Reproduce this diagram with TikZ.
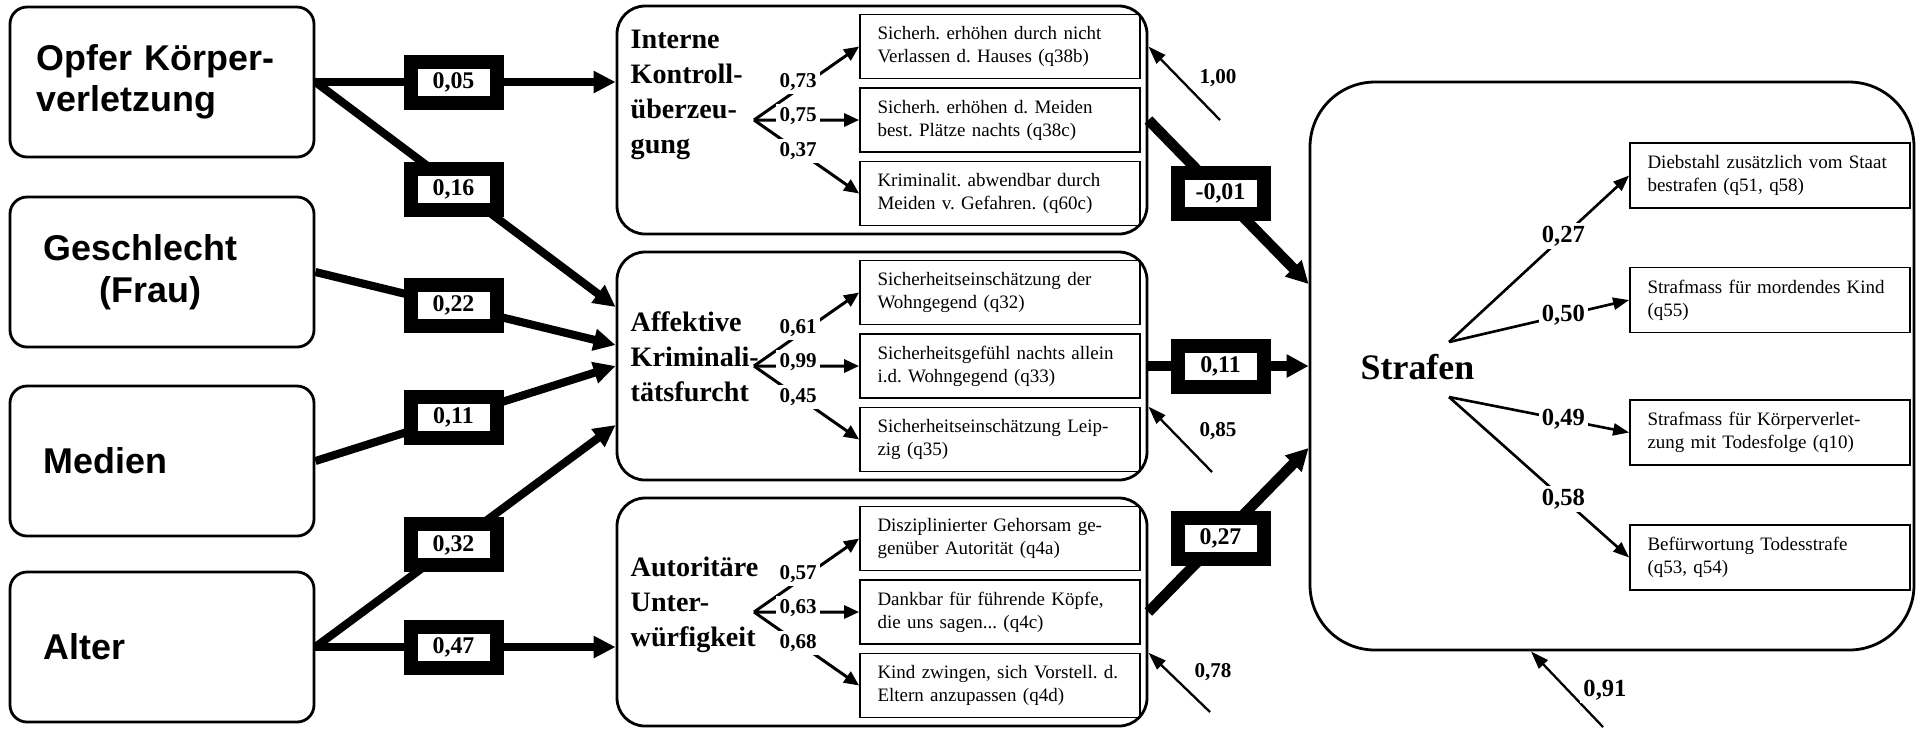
\documentclass[tikz,border=0pt]{standalone}
\usepackage{fontspec}
\setmainfont{Liberation Serif}
\setsansfont{Liberation Sans}
\usetikzlibrary{arrows.meta}
\frenchspacing
\tikzstyle{factor} = [rectangle, rounded corners=0.17cm, minimum width=3.04cm, minimum height=1.5cm, text width=2.5cm, inner xsep=0.27cm, align=left, draw=black, line width=0.8pt, font=\sffamily\bfseries\fontsize{10.2}{11.8}\selectfont]
\tikzstyle{latent} = [rectangle, rounded corners=0.28cm, minimum width=5.3cm, minimum height=2.28cm, draw=black, line width=0.8pt]
\tikzstyle{outcome} = [rectangle, rounded corners=0.65cm, minimum width=6.04cm, minimum height=5.68cm, draw=black, line width=0.8pt]
\tikzstyle{lvname} = [anchor=west, inner sep=0pt, align=left, font=\rmfamily\bfseries\fontsize{8}{10}\selectfont]
\tikzstyle{indic} = [rectangle, minimum width=2.8cm, minimum height=0.64cm, text width=2.45cm, inner xsep=0.175cm, align=left, draw=black, line width=0.5pt, font=\rmfamily\fontsize{5.4}{6.5}\selectfont]
\tikzstyle{coef} = [rectangle, minimum width=0.86cm, minimum height=0.41cm, inner sep=0pt, draw=black, line width=0.14cm, fill=white, font=\rmfamily\bfseries\fontsize{6.8}{7}\selectfont]
\tikzstyle{lbl} = [fill=white, inner sep=0.035cm, font=\rmfamily\bfseries\fontsize{6}{7}\selectfont]
\tikzstyle{slbl} = [fill=white, inner sep=0.03cm, font=\rmfamily\bfseries\fontsize{7}{8}\selectfont]
\tikzstyle{arrow} = [line width=2.3pt,->,>={Triangle[length=0.22cm,width=0.21cm]}]
\tikzstyle{bigarrow} = [line width=3pt,->,>={Triangle[length=0.22cm,width=0.22cm]}]
\tikzstyle{load} = [line width=0.85pt,->,>={Triangle[length=0.15cm,width=0.13cm]}]
\tikzstyle{sload} = [line width=0.75pt,->,>={Triangle[length=0.16cm,width=0.12cm]}]
\tikzstyle{resid} = [line width=0.65pt,->,>={Triangle[length=0.18cm,width=0.12cm]}]

\begin{document}
\begin{tikzpicture}
\useasboundingbox (0,0) rectangle (19.17,-7.29);

\node (opfer) [factor, xshift=1.62cm, yshift=-0.82cm] {Opfer Körper-\\verletzung};
\node (geschl) [factor, xshift=1.62cm, yshift=-2.72cm] {\hspace*{0.07cm}Geschlecht\\\hspace*{0.63cm}(Frau)};
\node (medien) [factor, xshift=1.62cm, yshift=-4.61cm] {\hspace*{0.07cm}Medien};
\node (alter) [factor, xshift=1.62cm, yshift=-6.47cm] {\hspace*{0.07cm}Alter};

\node (interne) [latent, xshift=8.82cm, yshift=-1.20cm] {};
\node (affekt) [latent, xshift=8.82cm, yshift=-3.66cm] {};
\node (autor) [latent, xshift=8.82cm, yshift=-6.12cm] {};
\node (intname) [lvname, xshift=6.30cm, yshift=-0.95cm] {Interne\\Kontroll-\\überzeu-\\gung};
\node (affname) [lvname, xshift=6.30cm, yshift=-3.57cm] {Affektive\\Kriminali-\\tätsfurcht};
\node (autname) [lvname, xshift=6.30cm, yshift=-6.05cm] {Autoritäre\\Unter-\\würfigkeit};

\node (i11) [indic, xshift=10cm, yshift=-0.465cm] {Sicherh. erhöhen durch nicht\\Verlassen d. Hauses (q38b)};
\node (i12) [indic, xshift=10cm, yshift=-1.20cm] {Sicherh. erhöhen d. Meiden\\best. Plätze nachts (q38c)};
\node (i13) [indic, xshift=10cm, yshift=-1.935cm] {Kriminalit. abwendbar durch\\Meiden v. Gefahren. (q60c)};
\node (i21) [indic, xshift=10cm, yshift=-2.925cm] {Sicherheitseinschätzung der\\Wohngegend (q32)};
\node (i22) [indic, xshift=10cm, yshift=-3.66cm] {Sicherheitsgefühl nachts allein\\i.d. Wohngegend (q33)};
\node (i23) [indic, xshift=10cm, yshift=-4.395cm] {Sicherheitseinschätzung Leip-\\zig (q35)};
\node (i31) [indic, xshift=10cm, yshift=-5.385cm] {Disziplinierter Gehorsam ge-\\genüber Autorität (q4a)};
\node (i32) [indic, xshift=10cm, yshift=-6.12cm] {Dankbar für führende Köpfe,\\die uns sagen... (q4c)};
\node (i33) [indic, xshift=10cm, yshift=-6.855cm] {Kind zwingen, sich Vorstell. d.\\Eltern anzupassen (q4d)};

\node (strafen) [outcome, xshift=16.12cm, yshift=-3.66cm] {};
\node (strname) [anchor=west, inner sep=0pt, font=\rmfamily\bfseries\fontsize{10.2}{12}\selectfont, xshift=13.60cm, yshift=-3.67cm] {Strafen};
\node (s1) [indic, minimum height=0.65cm, xshift=17.70cm, yshift=-1.755cm] {Diebstahl zusätzlich vom Staat\\bestrafen (q51, q58)};
\node (s2) [indic, minimum height=0.65cm, xshift=17.70cm, yshift=-3.00cm] {Strafmass für mordendes Kind\\(q55)};
\node (s3) [indic, minimum height=0.65cm, xshift=17.70cm, yshift=-4.325cm] {Strafmass für Körperverlet-\\zung mit Todesfolge (q10)};
\node (s4) [indic, minimum height=0.65cm, xshift=17.70cm, yshift=-5.575cm] {Befürwortung Todesstrafe\\(q53, q54)};

\coordinate (vint) at (7.54,-1.20);
\coordinate (vaff) at (7.54,-3.66);
\coordinate (vaut) at (7.54,-6.12);
\coordinate (vs1) at (14.49,-3.42);
\coordinate (vs2) at (14.49,-3.97);

\draw [load] (vint) -- node[lbl,pos=.42,yshift=0.07cm] {0,73} (i11.west);
\draw [load] (vint) -- node[lbl,pos=.42,yshift=0.04cm] {0,75} (i12.west);
\draw [load] (vint) -- node[lbl,pos=.42] {0,37} (i13.west);
\draw [load] (vaff) -- node[lbl,pos=.42,yshift=0.07cm] {0,61} (i21.west);
\draw [load] (vaff) -- node[lbl,pos=.42,yshift=0.04cm] {0,99} (i22.west);
\draw [load] (vaff) -- node[lbl,pos=.42] {0,45} (i23.west);
\draw [load] (vaut) -- node[lbl,pos=.42,yshift=0.07cm] {0,57} (i31.west);
\draw [load] (vaut) -- node[lbl,pos=.42,yshift=0.04cm] {0,63} (i32.west);
\draw [load] (vaut) -- node[lbl,pos=.42] {0,68} (i33.west);
\draw [sload] (vs1) -- node[slbl,pos=.635] {0,27} (s1.west);
\draw [sload] (vs1) -- node[slbl,pos=.635] {0,50} (s2.west);
\draw [sload] (vs2) -- node[slbl,pos=.635] {0,49} (s3.west);
\draw [sload] (vs2) -- node[slbl,pos=.635] {0,58} (s4.west);

\draw [arrow] (opfer.east) -- node[coef,pos=.46] {0,05} (opfer.east -| interne.west);
\draw [arrow] (opfer.east) -- node[coef,pos=.46,yshift=-0.04cm] {0,16} ([yshift=0.59cm]affekt.west);
\draw [arrow] (geschl.east) -- node[coef,pos=.46] {0,22} ([yshift=0.21cm]affekt.west);
\draw [arrow] (medien.east) -- node[coef,pos=.46] {0,11} (affekt.west);
\draw [arrow] (alter.east) -- node[coef,pos=.46] {0,32} ([yshift=-0.59cm]affekt.west);
\draw [arrow] (alter.east) -- node[coef,pos=.46] {0,47} (alter.east -| autor.west);

\draw [bigarrow] (interne.east) -- node[coef,pos=.45] {-0,01} ([yshift=0.82cm]strafen.west);
\draw [bigarrow] (affekt.east) -- node[coef,pos=.45] {0,11} (strafen.west);
\draw [bigarrow] (autor.east) -- node[coef,pos=.45] {0,27} ([yshift=-0.82cm]strafen.west);

\coordinate (e1) at (12.20,-1.20);
\coordinate (e2) at (12.12,-4.72);
\coordinate (e3) at (12.10,-7.12);
\coordinate (e4) at (16.03,-7.27);
\draw [resid] (e1) -- (interne.east |- i11.east);
\draw [resid] (e2) -- (affekt.east |- i23.north);
\draw [resid] (e3) -- (autor.east |- i33.north);
\draw [resid] (e4) -- ([xshift=-0.81cm]strafen.south);
\node (e1lbl) [lbl, xshift=12.18cm, yshift=-0.78cm] {1,00};
\node (e2lbl) [lbl, xshift=12.18cm, yshift=-4.31cm] {0,85};
\node (e3lbl) [lbl, xshift=12.13cm, yshift=-6.72cm] {0,78};
\node (e4lbl) [slbl, xshift=16.05cm, yshift=-6.90cm] {0,91};
\end{tikzpicture}
\end{document}
